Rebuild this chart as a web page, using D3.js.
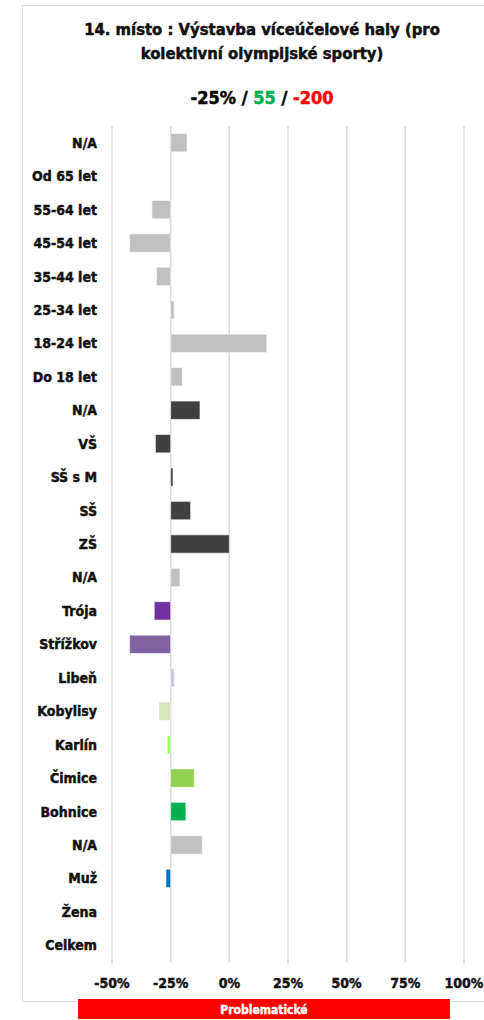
<!DOCTYPE html>
<html><head><meta charset="utf-8">
<script src="https://cdn.jsdelivr.net/npm/d3@7"></script>
<style>
html,body{margin:0;padding:0;background:#fff;}
text{font-family:"DejaVu Sans Condensed","DejaVu Sans",sans-serif;font-stretch:condensed;font-weight:bold;}
</style></head>
<body>
<svg id="c" width="484" height="1020"></svg>
<script>
const categories = ["N/A","Od 65 let","55-64 let","45-54 let","35-44 let","25-34 let","18-24 let","Do 18 let",
  "N/A ","VŠ","SŠ s M","SŠ","ZŠ",
  "N/A  ","Trója","Střížkov","Libeň","Kobylisy","Karlín","Čimice","Bohnice",
  "N/A   ","Muž","Žena","Celkem"];
const values = [-18,-25,-33,-42.5,-31,-23.5,16,-20,
  -12.5,-31.5,-24,-16.5,0,
  -21,-32,-42.5,-23.5,-30,-26.5,-15,-18.5,
  -11.5,-27,-25,-25];
const barColors = ["#c0c0c0","#c0c0c0","#c0c0c0","#c0c0c0","#c0c0c0","#c0c0c0","#c0c0c0","#c0c0c0",
  "#404040","#404040","#404040","#404040","#404040",
  "#c0c0c0","#7030a0","#8064a2","#ccc0da","#d7e4bc","#99ff66","#92d050","#00b050",
  "#c0c0c0","#0070c0","#c0c0c0","#c0c0c0"];
const baseValue = -25;
const tickValues = [-50,-25,0,25,50,75,100];
const titleLines = ["14. místo : Výstavba víceúčelové haly (pro","kolektivní olympijské sporty)"];
const subtitleParts = [["-25%","#000"],[" / ","#000"],["55","#00b050"],[" / ","#000"],["-200","#ff0000"]];
const footerLabel = "Problematické";

const svg = d3.select("#c");
// panel
svg.append("rect").attr("x",22.5).attr("y",5.5).attr("width",470).attr("height",996)
  .attr("fill","#fff").attr("stroke","#dcdcdc").attr("stroke-width",1);

const x = d3.scaleLinear().domain([-50,100]).range([112,464]);
const y = d3.scaleBand().domain(categories).range([126,962]).paddingInner(0.45).paddingOuter(0.225);

// gridlines
svg.append("g").selectAll("line").data(tickValues).join("line")
  .attr("x1",d=>x(d)).attr("x2",d=>x(d)).attr("y1",126).attr("y2",963)
  .attr("stroke","#d9d9d9").attr("stroke-width",1.5);

// bars
svg.append("g").selectAll("rect").data(categories).join("rect")
  .attr("x",(d,i)=>Math.min(x(values[i]),x(baseValue)))
  .attr("width",(d,i)=>Math.abs(x(values[i])-x(baseValue)))
  .attr("y",d=>y(d)).attr("height",y.bandwidth())
  .attr("fill",(d,i)=>barColors[i])
  .attr("stroke",(d,i)=>values[i]===baseValue?"none":"#fff").attr("stroke-opacity",0.6).attr("stroke-width",1);

// category labels
svg.append("g").selectAll("text").data(categories).join("text")
  .attr("x",97).attr("y",d=>y(d)+y.bandwidth()/2).attr("dy","0.36em")
  .attr("text-anchor","end").attr("font-size",14).attr("fill","#111")
  .attr("stroke","#111").attr("stroke-width",0.45)
  .text(d=>d.trim());

// x axis labels
svg.append("g").selectAll("text").data(tickValues).join("text")
  .attr("x",d=>x(d)).attr("y",988).attr("text-anchor","middle")
  .attr("font-size",14).attr("fill","#111").attr("stroke","#111").attr("stroke-width",0.45)
  .text(d=>d+"%");

// title
svg.append("g").selectAll("text").data(titleLines).join("text")
  .attr("x",262).attr("y",(d,i)=>35+i*24).attr("text-anchor","middle")
  .attr("font-size",16.5).attr("fill","#111").attr("stroke","#111").attr("stroke-width",0.5).text(d=>d);

const sub = svg.append("text").attr("x",262).attr("y",104).attr("text-anchor","middle")
  .attr("font-size",18).attr("xml:space","preserve");
sub.selectAll("tspan").data(subtitleParts).join("tspan")
  .attr("fill",d=>d[1]).attr("stroke",d=>d[1]).attr("stroke-width",0.5).text(d=>d[0]);

// footer red bar
svg.append("rect").attr("x",78).attr("y",999).attr("width",372).attr("height",20).attr("fill","#ff0000");
svg.append("text").attr("x",264).attr("y",1013.5).attr("text-anchor","middle")
  .attr("font-size",12).attr("fill","#fff").attr("stroke","#fff").attr("stroke-width",0.4).text(footerLabel);
</script>
</body></html>
